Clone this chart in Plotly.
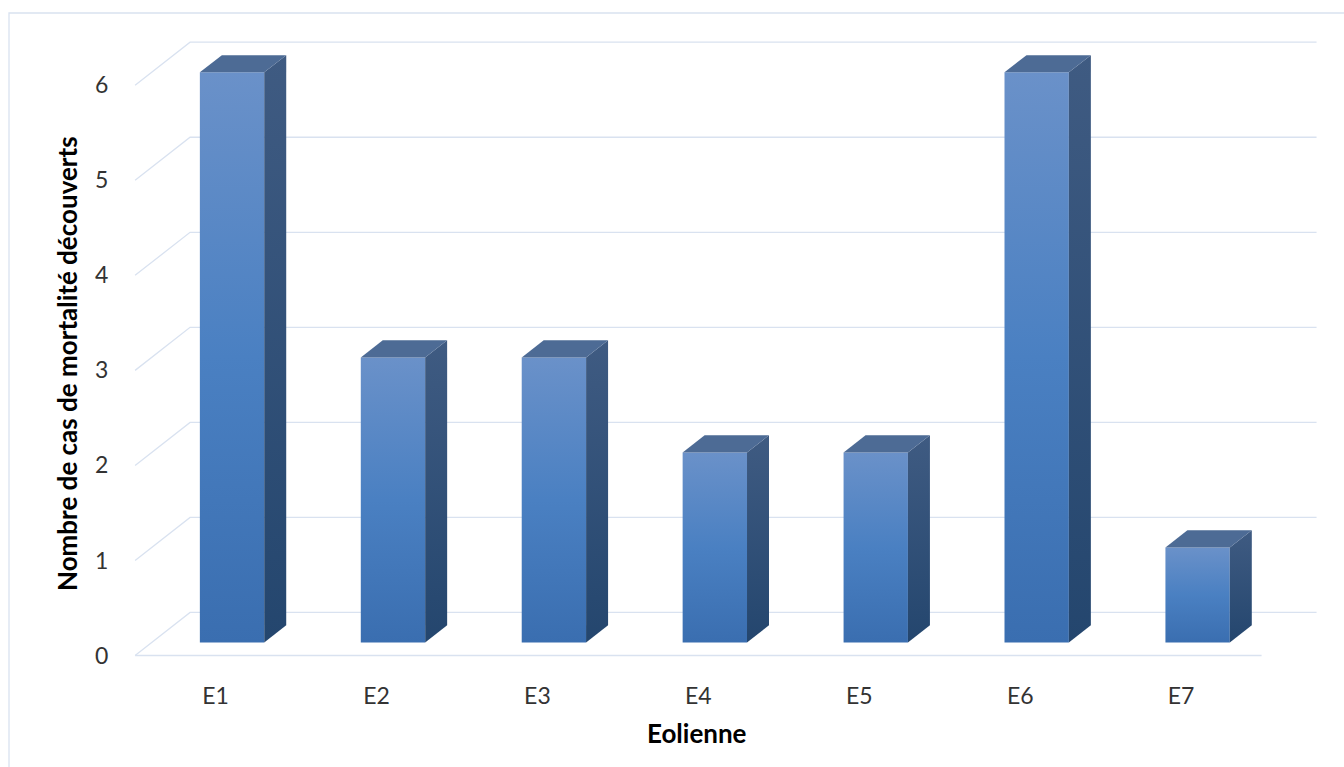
import plotly.graph_objects as go

# ---- data ----
categories = ["E1", "E2", "E3", "E4", "E5", "E6", "E7"]
values = [6, 3, 3, 2, 2, 6, 1]
y_ticks = [0, 1, 2, 3, 4, 5, 6]
x_title = "Eolienne"
y_title = "Nombre de cas de mortalité découverts"

# ---- pseudo-3D geometry (in axis units) ----
DX, DY = 0.3416, 0.453      # full depth offset of the floor/back wall
F, B = 0.30, 0.70           # bar front/back depth fractions
HW = 0.20                   # bar half width

W, H = 1344, 767
ML, MR, MT, MB = 119, 10, 33, 102
XR = [-0.6, 6.95]
YR = [-0.1, 6.55]

GRID = "#D9E2F0"
FONT = "Lato"

fig = go.Figure()

# gridlines: front diagonals, back wall lines, front floor line
gx, gy = [], []
for v in y_ticks:
    gx += [-0.5, -0.5 + DX, len(categories) - 0.5 + DX, None]
    gy += [v, v + DY, v + DY, None]
gx += [-0.5, len(categories) - 0.5, None]
gy += [0, 0, None]
fig.add_trace(go.Scatter(x=gx, y=gy, mode="lines", line=dict(color=GRID, width=1.3),
                         hoverinfo="skip", showlegend=False))

for i, v in enumerate(values):
    x0, x1 = i - HW, i + HW
    # front face
    fx = [x0 + F * DX, x1 + F * DX, x1 + F * DX, x0 + F * DX, x0 + F * DX]
    fy = [F * DY, F * DY, v + F * DY, v + F * DY, F * DY]
    fig.add_trace(go.Scatter(
        x=fx, y=fy, mode="lines", fill="toself", line=dict(width=0),
        fillgradient=dict(type="vertical", start=F * DY, stop=v + F * DY,
                          colorscale=[[0, "#3A6EB0"], [0.5, "#4A80C2"], [1, "#6A91C9"]]),
        hoverinfo="skip", showlegend=False))
    # side face
    sx = [x1 + F * DX, x1 + B * DX, x1 + B * DX, x1 + F * DX, x1 + F * DX]
    sy = [F * DY, B * DY, v + B * DY, v + F * DY, F * DY]
    fig.add_trace(go.Scatter(
        x=sx, y=sy, mode="lines", fill="toself", line=dict(width=0),
        fillgradient=dict(type="vertical", start=F * DY, stop=v + B * DY,
                          colorscale=[[0, "#24466E"], [1, "#3F5B82"]]),
        hoverinfo="skip", showlegend=False))
    # top face
    tx = [x0 + F * DX, x1 + F * DX, x1 + B * DX, x0 + B * DX, x0 + F * DX]
    ty = [v + F * DY, v + F * DY, v + B * DY, v + B * DY, v + F * DY]
    fig.add_trace(go.Scatter(
        x=tx, y=ty, mode="lines", fill="toself", line=dict(width=0),
        fillcolor="#4D6B95", hoverinfo="skip", showlegend=False))

pw = W - ML - MR
ph = H - MT - MB


def px_to_paper(px, py):
    return (px - ML) / pw, (H - MB - py) / ph


tx_, ty_ = px_to_paper(697, 733)
yx_, yy_ = px_to_paper(67, 364)
bx0, by0 = px_to_paper(9, 13)
bx1, by1 = px_to_paper(1400, 820)

fig.update_layout(
    width=W, height=H,
    margin=dict(l=ML, r=MR, t=MT, b=MB, autoexpand=False),
    paper_bgcolor="white", plot_bgcolor="white",
    font=dict(family=FONT, size=23, color="#333333"),
    xaxis=dict(range=XR, showgrid=False, zeroline=False, showline=False,
               tickmode="array", tickvals=list(range(len(categories))), ticktext=categories,
               ticks="outside", ticklen=10, tickcolor="rgba(0,0,0,0)", fixedrange=True),
    yaxis=dict(range=YR, showgrid=False, zeroline=False, showline=False,
               tickmode="array", tickvals=y_ticks, ticktext=[str(t) for t in y_ticks],
               ticks="outside", ticklen=5, tickcolor="rgba(0,0,0,0)", fixedrange=True),
    annotations=[
        dict(text="<b>%s</b>" % x_title, xref="paper", yref="paper", x=tx_, y=ty_,
             showarrow=False, xanchor="center", yanchor="middle",
             font=dict(family=FONT, size=26, color="black")),
        dict(text="<b>%s</b>" % y_title, xref="paper", yref="paper", x=yx_, y=yy_,
             showarrow=False, xanchor="center", yanchor="middle", textangle=-90,
             font=dict(family=FONT, size=26, color="black")),
    ],
    shapes=[dict(type="rect", xref="paper", yref="paper", x0=bx0, y0=by1 if by1 < by0 else by0,
                 x1=bx1, y1=by0, line=dict(color=GRID, width=1.3), layer="below")],
    showlegend=False,
)

fig.write_html("out.html")
